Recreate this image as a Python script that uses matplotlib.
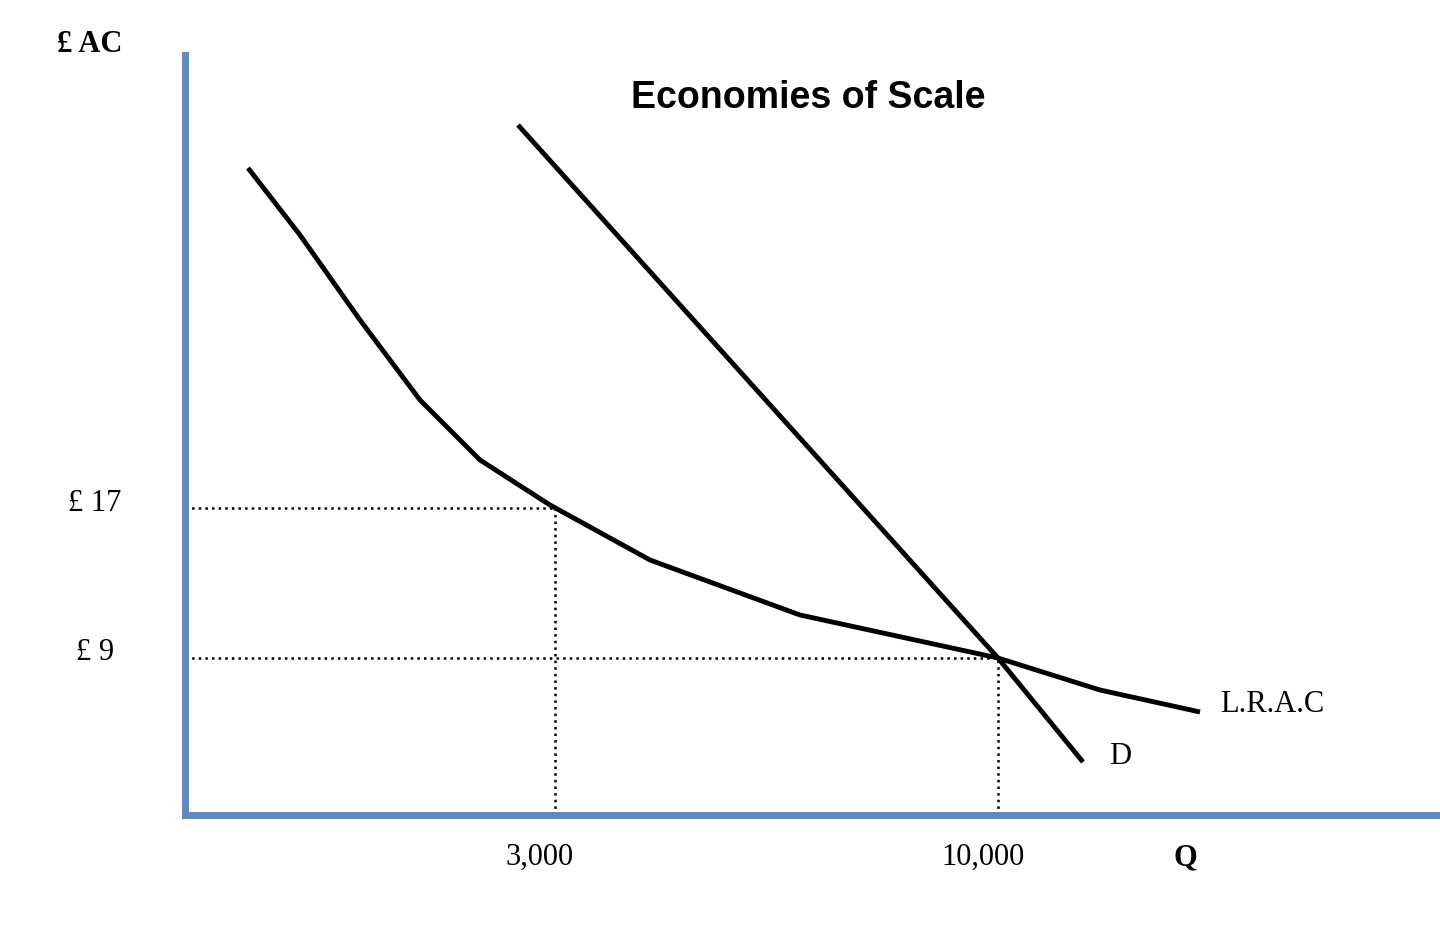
import matplotlib.pyplot as plt

# diagram units (not to scale, like the original sketch)
lrac_x = [0.63, 1.15, 1.75, 2.35, 2.95, 3.65, 4.65, 6.15, 8.13, 9.15, 10.15]
lrac_y = [6.47, 5.80, 4.95, 4.15, 3.55, 3.10, 2.55, 2.00, 1.57, 1.25, 1.03]
d_x = [3.33, 8.13, 8.98]
d_y = [6.90, 1.57, 0.53]
q_pos = [3.70, 8.13]
q_labels = ["3,000", "10,000"]
p_pos = [3.07, 1.57]
p_labels = ["£ 17", "£ 9"]

W, H = 1440, 938
fig = plt.figure(figsize=(W / 100, H / 100), dpi=100)
ax = fig.add_axes([185 / W, 1 - 815 / H, 1255 / W, 760 / H])
ax.set_xlim(0, 12.55)
ax.set_ylim(0, 7.6)
for s in ["top", "right"]:
    ax.spines[s].set_visible(False)
for s in ["left", "bottom"]:
    ax.spines[s].set_color("#5b8bc8")
    ax.spines[s].set_linewidth(5)
ax.set_xticks([])
ax.set_yticks([])

ax.plot(lrac_x, lrac_y, color="black", lw=3.5, solid_capstyle="butt")
ax.plot(d_x, d_y, color="black", lw=3.5, solid_capstyle="butt")

# dotted guide lines at the two cost levels
ax.plot([0, q_pos[0]], [p_pos[0]] * 2, ":", color="black", lw=1.8)
ax.plot([q_pos[0]] * 2, [0, p_pos[0]], ":", color="black", lw=1.8)
ax.plot([0, q_pos[1]], [p_pos[1]] * 2, ":", color="black", lw=1.8)
ax.plot([q_pos[1]] * 2, [0, p_pos[1]], ":", color="black", lw=1.8)

serif = "Liberation Serif"
for x, lab in zip(q_pos, q_labels):
    ax.text(x - 0.15, -0.42, lab, ha="center", va="center", fontsize=22, family=serif)
for y, lab in zip(p_pos, p_labels):
    ax.text(-0.9, y + 0.05, lab, ha="center", va="center", fontsize=22, family=serif)

ax.text(10.35, 1.1, "L.R.A.C", ha="left", va="center", fontsize=22, family=serif)
ax.text(9.35, 0.58, "D", ha="center", va="center", fontsize=22, family=serif)

fig.text(90 / W, 1 - 45 / H, "£ AC", ha="center", va="center", fontsize=22,
         family=serif, weight="bold")
fig.text(1185 / W, 1 - 858 / H, "Q", ha="center", va="center", fontsize=22,
         family=serif, weight="bold")
fig.text(808 / W, 1 - 98 / H, "Economies of Scale", ha="center", va="center",
         fontsize=27, family="Liberation Sans", weight="bold")

fig.savefig("out.png", dpi=100)
